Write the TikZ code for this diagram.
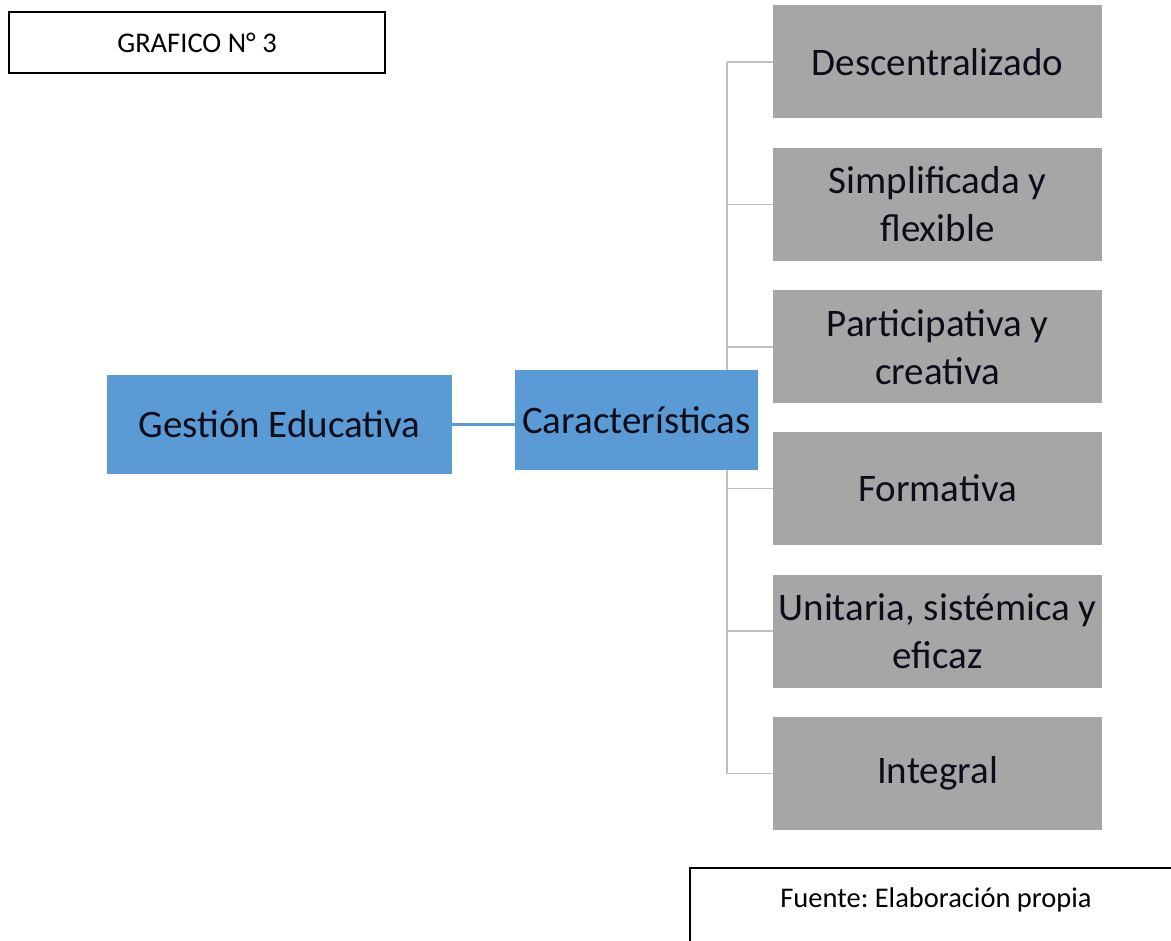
\documentclass[tikz,border=0pt]{standalone}
\usepackage{fontspec}
\setmainfont{Carlito}
\frenchspacing
\definecolor{boxblue}{HTML}{5B9BD5}
\definecolor{boxgray}{HTML}{A6A6A6}
\definecolor{linegray}{HTML}{BFBFBF}
\definecolor{txt}{HTML}{0D0D1A}
\tikzset{
  graybox/.style={rectangle, fill=boxgray, minimum width=329pt, minimum height=113pt, inner sep=0pt, align=center, text=txt, font=\fontsize{39}{48}\selectfont},
  bluebox/.style={rectangle, fill=boxblue, inner sep=0pt, align=center, text=txt, font=\fontsize{39}{48}\selectfont},
  branch/.style={draw=linegray, line width=1.5pt},
  blueline/.style={draw=boxblue, line width=3pt},
  frame/.style={draw=black, line width=2pt},
}
\begin{document}
\begin{tikzpicture}[x=1pt,y=-1pt]
\useasboundingbox (0,0) rectangle (1171,941);
\clip (0,0) rectangle (1171,941);
\fill[white] (0,0) rectangle (1171,941);
% title
\node[frame, rectangle, minimum width=376pt, minimum height=61pt, inner sep=0pt, font=\fontsize{28.5}{34}\selectfont] (title) at (197,42.5) {GRAFICO N° 3};
% gray boxes
\node[graybox] (d1) at (937.5,62) {Descentralizado};
\node[graybox] (d2) at (937.5,204.5) {Simplificada y\\flexible};
\node[graybox] (d3) at (937.5,347) {Participativa y\\creativa};
\node[graybox] (d4) at (937.5,488.5) {Formativa};
\node[graybox] (d5) at (937.5,631) {Unitaria, sistémica y\\eficaz};
\node[graybox] (d6) at (937.5,773.5) {Integral};
% branch lines
\coordinate (trunk) at (727,0);
\draw[branch] (d1.west -| trunk) -- (d6.west -| trunk);
\foreach \i in {1,...,6} {\draw[branch] (d\i.west) -- (d\i.west -| trunk);}
% blue boxes
\node[bluebox, minimum width=345pt, minimum height=99pt] (g) at (279.5,424.5) {Gestión Educativa};
\node[bluebox, minimum width=243pt, minimum height=100pt] (c) at (636.5,420) {Características};
\draw[blueline] (g.east) -- (g.east -| c.west);
% source
\draw[frame] (690,868) rectangle (1190,960);
\node[anchor=base, inner sep=0pt, font=\fontsize{28.5}{34}\selectfont] (fuente) at (936,907) {Fuente: Elaboración propia};
\end{tikzpicture}
\end{document}
